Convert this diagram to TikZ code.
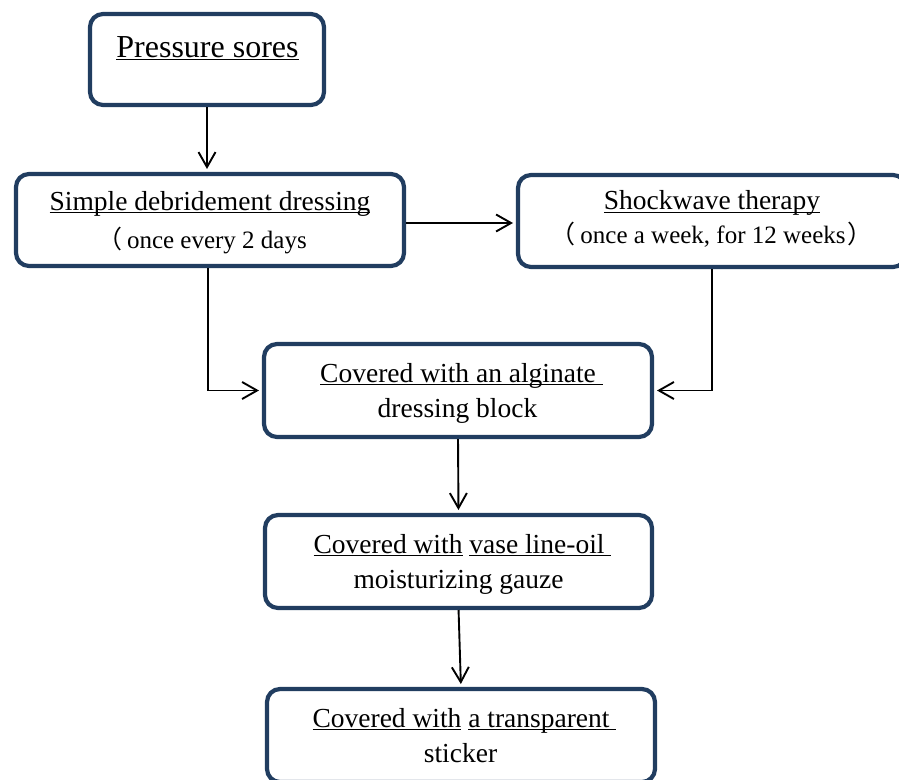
\documentclass[tikz,border=0pt]{standalone}
\usepackage{fontspec}
\setmainfont{Liberation Serif}
\newfontfamily\cjk{Noto Sans CJK SC}
\usetikzlibrary{arrows.meta}
\definecolor{boxblue}{RGB}{33,61,96}
\newcommand\uln[1]{\setbox0=\hbox{#1}\rlap{\rule[-3.2pt]{\wd0}{1.1pt}}\box0}
\tikzset{
  flowbox/.style={draw=boxblue, line width=4.2pt, rounded corners=13pt, fill=white,
    inner sep=0pt, outer sep=0pt},
  txt/.style={inner sep=0pt, outer sep=0pt, anchor=base, font=\fontsize{27.5}{30}\selectfont},
  small/.style={inner sep=0pt, outer sep=0pt, font=\fontsize{25}{28}\selectfont},
  title/.style={inner sep=0pt, outer sep=0pt, anchor=base, font=\fontsize{32}{36}\selectfont},
  arr/.style={draw=black, line width=1.9pt, -{Straight Barb[length=15pt,width=17pt,line width=1.9pt]},
    shorten >=5pt}
}
\begin{document}
\begin{tikzpicture}[x=1pt,y=-1pt]
\useasboundingbox (0,0) rectangle (899,779);
% boxes
\node[flowbox, minimum width=234pt, minimum height=91pt] (b1) at (207,59.5) {};
\node[flowbox, minimum width=388pt, minimum height=92pt] (b2) at (210,220) {};
\node[flowbox, minimum width=388pt, minimum height=92pt] (b3) at (712,221) {};
\node[flowbox, minimum width=388pt, minimum height=93pt] (b4) at (458,390.5) {};
\node[flowbox, minimum width=387pt, minimum height=93pt] (b5) at (458.5,561.5) {};
\node[flowbox, minimum width=388pt, minimum height=93pt] (b6) at (461,735.5) {};
% texts
\node[title] (t1) at (207.5,57) {\uln{Pressure sores}};
\node[txt] (t2a) at (210,210) {\uln{Simple debridement dressing}};
\node[small, anchor=base west] (t2b) at (97,248) {{\cjk （}\kern5pt once every 2 days};
\node[txt] (t3a) at (712,209.5) {\uln{Shockwave therapy}};
\node[small, anchor=base] (t3b) at (711.5,243) {{\cjk （}\kern5pt once a week, for 12 weeks\kern2pt{\cjk ）}};
\node[txt] (t4a) at (461.5,382) {\uln{Covered with an alginate\ }};
\node[txt] (t4b) at (457.5,417) {dressing block};
\node[txt] (t5a) at (462.5,553) {\uln{Covered with}\ \uln{vase line-oil\ }};
\node[txt] (t5b) at (458.5,588) {moisturizing gauze};
\node[txt] (t6a) at (464.5,727) {\uln{Covered with}\ \uln{a transparent\ }};
\node[txt] (t6b) at (460.5,762) {sticker};
% connectors
\coordinate (row2) at (0,223);
\coordinate (leftdrop) at (208,0);
\draw[arr, shorten <=2pt] (b1.south) -- (b1.south |- b2.north);
\draw[arr, shorten <=2pt] (b2.east |- row2) -- (b3.west |- row2);
\draw[arr, shorten <=2pt] (leftdrop |- b2.south) |- (b4.west);
\draw[arr, shorten <=2pt] (b3.south) |- (b4.east);
\draw[arr, shorten <=2pt] (b4.south) -- (b5.north);
\draw[arr, shorten <=2pt] (b5.south) -- (b6.north);
\end{tikzpicture}
\end{document}
